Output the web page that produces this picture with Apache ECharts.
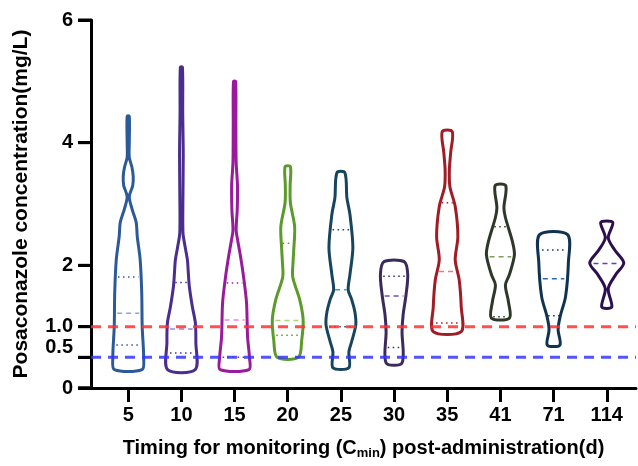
<!DOCTYPE html>
<html>
<head>
<meta charset="utf-8">
<script src="https://cdn.jsdelivr.net/npm/echarts@6/dist/echarts.min.js"></script>
<style>
  html, body { margin: 0; padding: 0; background: #fff; }
  #chart { width: 638px; height: 466px; }
</style>
</head>
<body>
<div id="chart"></div>
<script>
// days after administration (x categories)
var categories = ['5', '10', '15', '20', '25', '30', '35', '41', '71', '114'];

// violin outlines: [concentration, half width in category units]
var violin5 = [[0.30, 0.26], [0.5, 0.29], [1.0, 0.263], [1.55, 0.254], [2.09, 0.225], [2.47, 0.17], [2.70, 0.15], [2.91, 0.075], [3.12, 0.02], [3.3, 0.085], [3.45, 0.094], [3.6, 0.07], [3.76, 0.02], [4.0, 0.02], [4.43, 0.02]];
var violin10 = [[0.30, 0.26], [0.74, 0.272], [1.06, 0.263], [1.32, 0.207], [1.65, 0.15], [1.88, 0.13], [2.09, 0.113], [2.35, 0.06], [2.53, 0.03], [3.0, 0.028], [3.8, 0.035], [4.5, 0.025], [5.23, 0.02]];
var violin15 = [[0.30, 0.27], [0.5, 0.28], [0.83, 0.245], [1.39, 0.225], [1.81, 0.17], [2.14, 0.113], [2.4, 0.06], [2.58, 0.03], [2.9, 0.05], [3.3, 0.055], [3.68, 0.03], [4.3, 0.025], [5.0, 0.02]];
var violin20 = [[0.5, 0.2], [0.78, 0.263], [1.11, 0.29], [1.44, 0.225], [1.81, 0.094], [2.05, 0.1], [2.25, 0.113], [2.63, 0.13], [3.02, 0.05], [3.3, 0.045], [3.61, 0.05]];
var violin25 = [[0.33, 0.15], [0.59, 0.15], [0.75, 0.2], [1.03, 0.28], [1.24, 0.263], [1.45, 0.2], [1.60, 0.137], [1.85, 0.17], [2.29, 0.225], [2.83, 0.17], [3.10, 0.113], [3.51, 0.075]];
var violin30 = [[0.41, 0.15], [0.92, 0.15], [1.19, 0.17], [1.52, 0.225], [1.85, 0.257], [2.06, 0.19]];
var violin35 = [[0.92, 0.263], [1.32, 0.263], [1.76, 0.225], [2.09, 0.15], [2.47, 0.2], [2.96, 0.15], [3.28, 0.05], [3.56, 0.04], [3.84, 0.065], [4.18, 0.094]];
var violin41 = [[1.14, 0.17], [1.41, 0.15], [1.68, 0.094], [1.85, 0.17], [2.17, 0.263], [2.39, 0.225], [2.78, 0.094], [2.94, 0.066], [3.30, 0.1]];
var violin71 = [[0.70, 0.118], [0.95, 0.085], [1.16, 0.122], [1.49, 0.225], [2.04, 0.278], [2.50, 0.263]];
var violin114 = [[1.32, 0.094], [1.62, 0.028], [1.85, 0.17], [2.04, 0.32], [2.25, 0.15], [2.45, 0.028], [2.70, 0.113]];

// [q1, median, q3]
var quartiles = [
    [0.70, 1.22, 1.81],
    [0.57, 0.96, 1.72],
    [0.50, 1.11, 1.71],
    [0.86, 1.10, 2.36],
    [1.00, 1.60, 2.58],
    [0.66, 1.50, 1.82],
    [1.06, 1.90, 3.02],
    [1.16, 2.14, 2.63],
    [1.18, 1.78, 2.25],
    [null, 2.03, null]
];

// target trough levels (mg/L)
var refLevels = [1.0, 0.5];

var yTicks = [0, 0.5, 1, 2, 4, 6];
var yTickText = ['0', '0.5', '1.0', '2', '4', '6'];

var violins = [violin5, violin10, violin15, violin20, violin25, violin30, violin35, violin41, violin71, violin114];
var outlineColors = ['#2c5a98', '#4b2d8f', '#9a1a9c', '#5b9a2b', '#17455e', '#3a2b5c', '#a01d26', '#2e3829', '#0f3350', '#2b0f50'];
var medianColors = ['#86a6dc', '#9b86d6', '#e58ae0', '#a8d57e', '#3d9cbc', '#6b4fb0', '#e07d86', '#7f9c5e', '#2d6aa6', '#6a3abb'];
var dotColors = ['#2c5a98', '#4b2d8f', '#9a1a9c', '#5b9a2b', '#17455e', '#3a2b5c', '#a01d26', '#2e3829', '#0f3350', '#2b0f50'];
var refColors = ['#ff3030', '#3535ff'];

// category i sits at x = i + xPad; the axis runs 0 .. xMax
var xPad = 0.7, xMax = 10.25, yMax = 6;
var tickPos = categories.map(function (c, i) { return i + xPad; });

// grid box in px
var gridLeft = 91, gridTop = 20, gridBottom = 78, chartH = 466;

function halfWidthAt(prof, v) {
    for (var k = 1; k < prof.length; k++) {
        if (v <= prof[k][0]) {
            var a = prof[k - 1], b = prof[k];
            var t = (v - a[0]) / (b[0] - a[0]);
            return a[1] + (b[1] - a[1]) * Math.max(0, Math.min(1, t));
        }
    }
    return prof[prof.length - 1][1];
}

function renderViolin(params, api) {
    var i = params.dataIndex;
    var cx = api.value(0);
    var prof = violins[i];
    var pts = [];
    prof.forEach(function (p) { pts.push(api.coord([cx + p[1], p[0]])); });
    prof.slice().reverse().forEach(function (p) { pts.push(api.coord([cx - p[1], p[0]])); });
    var children = [{
        type: 'polygon',
        shape: { points: pts, smooth: 0.3 },
        style: { fill: 'none', stroke: outlineColors[i], lineWidth: 3, lineJoin: 'round' }
    }];
    quartiles[i].forEach(function (q, k) {
        if (q == null) return;
        var w = halfWidthAt(prof, q) * 0.8;
        var a = api.coord([cx - w, q]), b = api.coord([cx + w, q]);
        var median = k === 1;
        children.push({
            type: 'line',
            shape: { x1: a[0], y1: a[1], x2: b[0], y2: b[1] },
            style: {
                stroke: median ? medianColors[i] : dotColors[i],
                lineWidth: 1.5,
                lineDash: median ? [5, 4] : [1.5, 3.5]
            }
        });
    });
    return { type: 'group', children: children };
}

var series = [{
    type: 'custom',
    renderItem: renderViolin,
    data: tickPos.map(function (x) { return [x, 0]; }),
    z: 2,
    silent: true
}];
refLevels.forEach(function (lvl, k) {
    series.push({
        type: 'line',
        data: [[0, lvl], [xMax, lvl]],
        symbol: 'none',
        silent: true,
        z: 3,
        lineStyle: { color: refColors[k], width: 3, type: [10, 7], opacity: 0.85 }
    });
});

// y-axis ticks as graphic lines along the left grid edge
var plotH = chartH - gridTop - gridBottom;
var yTickMarks = yTicks.map(function (v) {
    var y = gridTop + plotH * (1 - v / yMax);
    return {
        type: 'line', z: 100, silent: true,
        shape: { x1: gridLeft - 13, y1: y, x2: gridLeft, y2: y },
        style: { stroke: '#000', lineWidth: 3 }
    };
});
// x-axis line continues left under the 0 tick, as in the original
yTickMarks.push({
    type: 'line', z: 100, silent: true,
    shape: { x1: gridLeft - 13, y1: chartH - gridBottom, x2: gridLeft + 2, y2: chartH - gridBottom },
    style: { stroke: '#000', lineWidth: 3 }
});

var myChart = echarts.init(document.getElementById('chart'));
var font = 'Liberation Sans, Arial, sans-serif';
var option = {
    animation: false,
    grid: { left: gridLeft, right: 2, top: gridTop, bottom: gridBottom, containLabel: false, outerBoundsMode: 'none' },
    graphic: { elements: yTickMarks },
    xAxis: {
        type: 'value',
        min: 0,
        max: xMax,
        splitLine: { show: false },
        axisLine: { lineStyle: { color: '#000', width: 3 } },
        axisTick: { customValues: tickPos, length: 14, lineStyle: { color: '#000', width: 3 } },
        axisLabel: {
            customValues: tickPos,
            formatter: function (v) { return categories[Math.round(v - xPad)]; },
            color: '#000', fontSize: 20, fontWeight: 'bold', fontFamily: font, margin: 17
        },
        name: '{t|Timing for monitoring (C}{s|min}{t|) post-administration(d)}',
        nameLocation: 'middle',
        nameGap: 49,
        nameTextStyle: {
            rich: {
                t: { fontSize: 20, fontWeight: 'bold', fontFamily: font, color: '#000' },
                s: { fontSize: 13, fontWeight: 'bold', fontFamily: font, color: '#000', padding: [10, 0, 0, 0] }
            }
        }
    },
    yAxis: {
        type: 'value',
        min: 0,
        max: yMax,
        position: 'left',
        splitLine: { show: false },
        axisLine: { show: true, onZero: false, lineStyle: { color: '#000', width: 3 } },
        axisTick: { show: true, inside: false, customValues: yTicks, length: 13, lineStyle: { color: '#000', width: 3 } },
        axisLabel: {
            customValues: yTicks,
            formatter: function (v) {
                var k = yTicks.indexOf(v);
                var s = k >= 0 ? yTickText[k] : String(v);
                return v === 0.5 ? '{up|' + s + '}' : s;
            },
            color: '#000', fontSize: 20, fontWeight: 'bold', fontFamily: font, margin: 18,
            rich: { up: { fontSize: 20, fontWeight: 'bold', fontFamily: font, color: '#000', padding: [0, 0, 20, 0] } }
        },
        name: 'Posaconazole concentration(mg/L)',
        nameLocation: 'middle',
        nameGap: 59,
        nameTextStyle: { fontSize: 21, fontWeight: 'bold', fontFamily: font, color: '#000' }
    },
    series: series
};
option && myChart.setOption(option);
</script>
</body>
</html>
